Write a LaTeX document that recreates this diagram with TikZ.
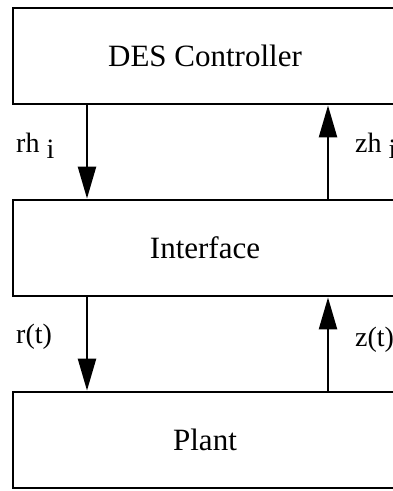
\documentclass[tikz,border=0pt]{standalone}
\usepackage{fontspec}
\setmainfont{Liberation Serif}
\usetikzlibrary{arrows.meta}
\begin{document}
\begin{tikzpicture}[x=1pt,y=-1pt,
  blk/.style={draw, line width=2.8pt, minimum width=384pt, minimum height=96pt, inner sep=0pt, font=\fontsize{31}{36}\selectfont},
  sig/.style={line width=2.4pt, -{Triangle[length=32pt,width=18pt]}},
  lbl/.style={anchor=base west, inner sep=0pt, font=\fontsize{28}{32}\selectfont}]
\useasboundingbox (0,0) rectangle (393,491);
\clip (0,0) rectangle (393,491);
\fill[white] (0,0) rectangle (393,491);
\node[blk] (des) at (205,56) {DES Controller};
\node[blk] (intf) at (205,248) {Interface};
\node[blk] (plant) at (205,440) {Plant};
\coordinate (xl) at (87,0);
\coordinate (xr) at (328,0);
\draw[sig] (des.south -| xl) -- (intf.north -| xl);
\draw[sig] (intf.north -| xr) -- (des.south -| xr);
\draw[sig] (intf.south -| xl) -- (plant.north -| xl);
\draw[sig] (plant.north -| xr) -- (intf.south -| xr);
\node[lbl] (rh) at (16,152) {rh \raisebox{-6pt}{i}};
\node[lbl] (zh) at (355,152) {zh \raisebox{-6pt}{i}};
\node[lbl] (rt) at (16,343) {r(t)};
\node[lbl] (zt) at (355,346) {z(t)};
\end{tikzpicture}
\end{document}
